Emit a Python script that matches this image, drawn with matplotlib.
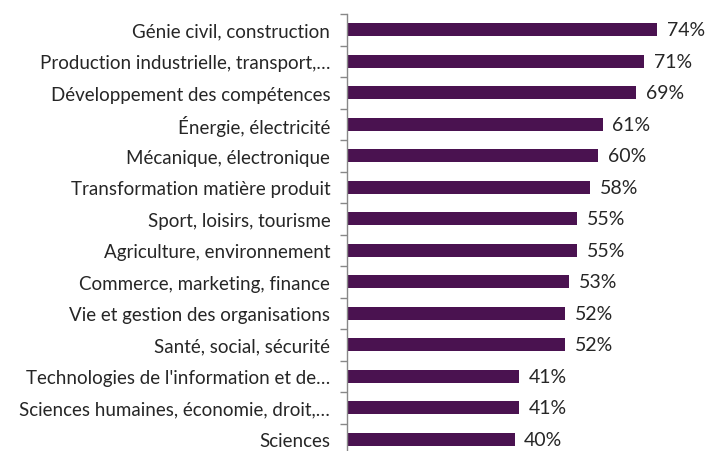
import matplotlib.pyplot as plt

categories = [
    "Génie civil, construction",
    "Production industrielle, transport,…",
    "Développement des compétences",
    "Énergie, électricité",
    "Mécanique, électronique",
    "Transformation matière produit",
    "Sport, loisirs, tourisme",
    "Agriculture, environnement",
    "Commerce, marketing, finance",
    "Vie et gestion des organisations",
    "Santé, social, sécurité",
    "Technologies de l'information et de…",
    "Sciences humaines, économie, droit,…",
    "Sciences",
]
values = [74, 71, 69, 61, 60, 58, 55, 55, 53, 52, 52, 41, 41, 40]

bar_color = "#4A1250"
text_color = "#262626"

fig = plt.figure(figsize=(7.24, 4.52), dpi=100)
ax = fig.add_axes([347 / 724, -4 / 452, 1 - 347 / 724, 441 / 452])

n = len(categories)
pos = list(range(n))
ax.barh(pos, values, height=0.42, color=bar_color)
ax.set_ylim(n - 0.5, -0.5)
ax.set_xlim(0, 90)

for y, v in zip(pos, values):
    ax.text(v + 2.3, y, f"{v}%", va="center", ha="left",
            fontsize=14, color=text_color, family="Lato")

ax.set_yticks(pos)
ax.set_yticklabels(categories, fontsize=13.5, color=text_color, family="Lato")
ax.set_yticks([i - 0.5 for i in range(n + 1)], minor=True)
ax.tick_params(axis="y", which="major", length=0, pad=12)
ax.tick_params(axis="y", which="minor", length=5, color="#888888", width=1)
ax.set_xticks([])

for s in ["top", "right", "bottom"]:
    ax.spines[s].set_visible(False)
ax.spines["left"].set_color("#888888")
ax.spines["left"].set_linewidth(1)

fig.savefig("out.png", dpi=100)
